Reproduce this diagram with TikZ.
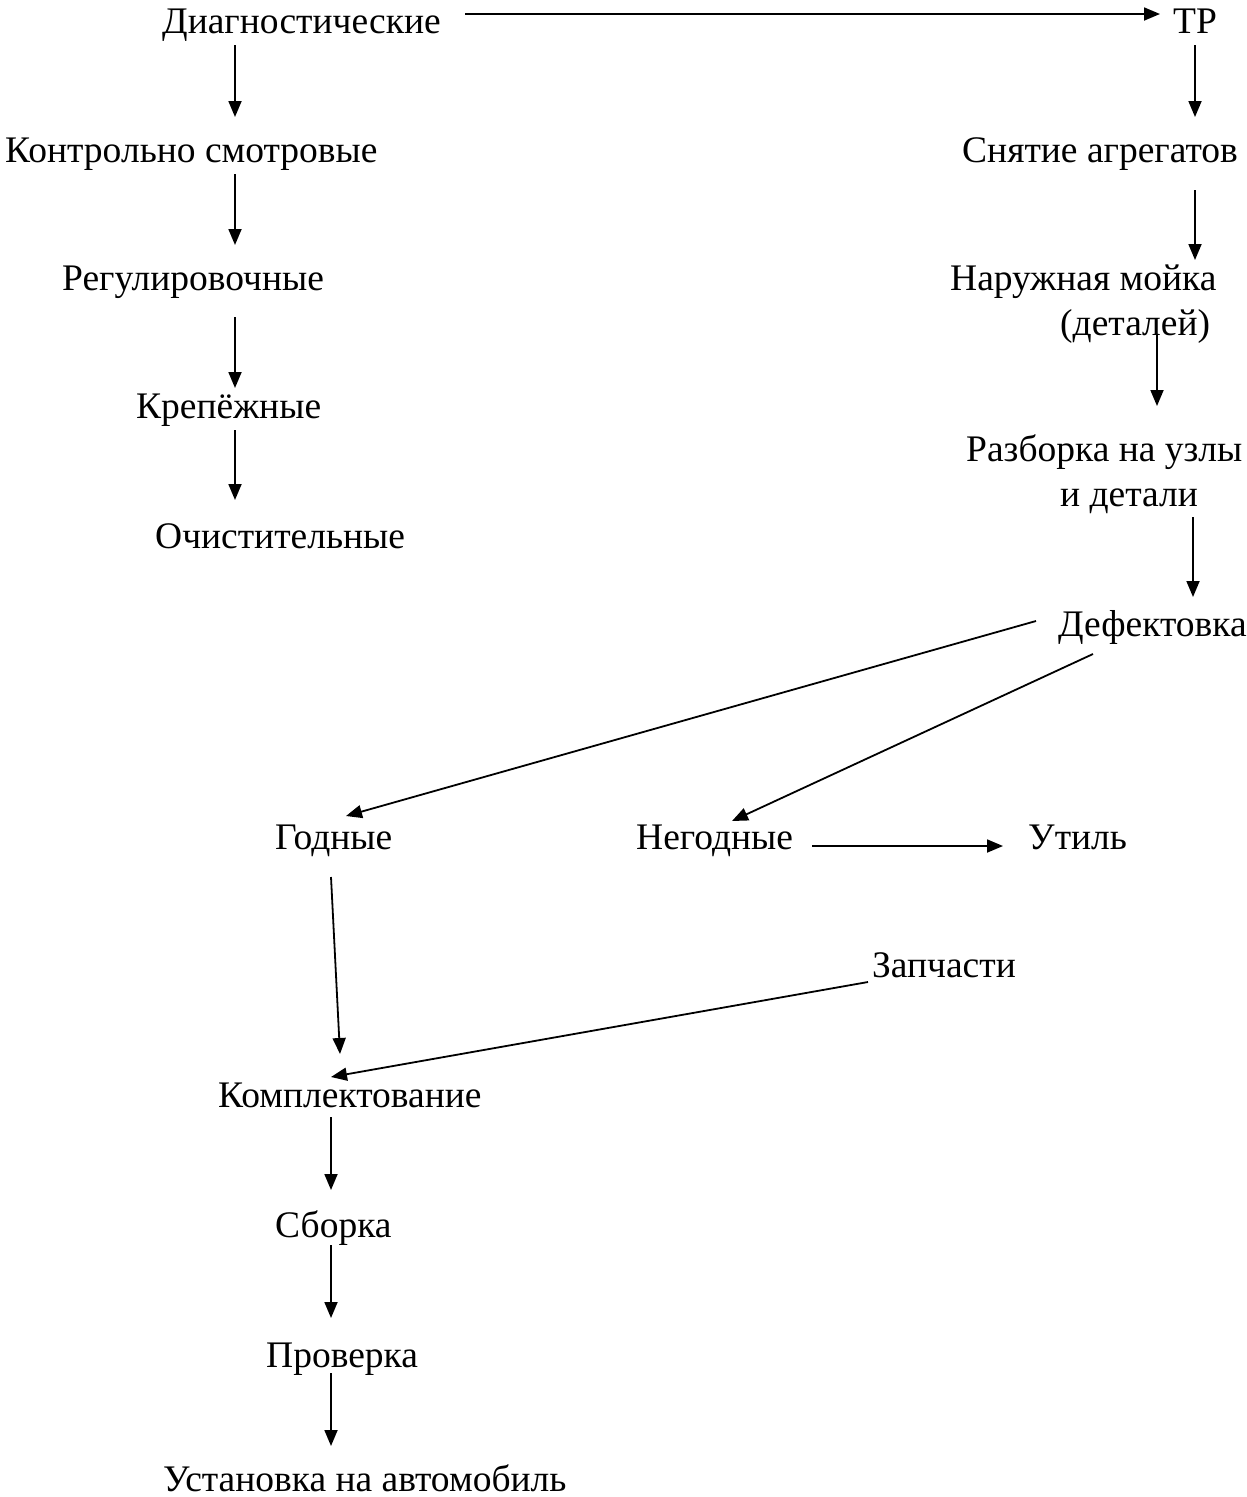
\documentclass[tikz,border=0pt]{standalone}
\usepackage{fontspec}
\setmainfont{Liberation Serif}
\usetikzlibrary{arrows.meta}
\begin{document}
\begin{tikzpicture}[x=1pt,y=-1pt,
  lbl/.style={anchor=base west,inner sep=0pt,font=\fontsize{37.5}{45}\selectfont},
  arr/.style={line width=1.8pt,-{Triangle[length=16pt,width=13pt]}}]
\useasboundingbox (0,0) rectangle (1247,1497);
% left column
\node[lbl] (diag) at (162,33) {Диагностические};
\node[lbl] (kontr) at (5,162) {Контрольно смотровые};
\node[lbl] (regul) at (62,290) {Регулировочные};
\node[lbl] (krep) at (136,418) {Крепёжные};
\node[lbl] (ochist) at (155,548) {Очистительные};
% right column
\node[lbl] (tr) at (1173,33) {ТР};
\node[lbl] (snyat) at (962,162) {Снятие агрегатов};
\node[lbl] (moika) at (950,290) {Наружная мойка};
\node[lbl] (moika2) at (1060,335) {(деталей)};
\node[lbl] (razb) at (966,461) {Разборка на узлы};
\node[lbl] (razb2) at (1060,506) {и детали};
\node[lbl] (defekt) at (1058,636) {Дефектовка};
% middle
\node[lbl] (godn) at (275,849) {Годные};
\node[lbl] (negodn) at (636,849) {Негодные};
\node[lbl] (util) at (1028,849) {Утиль};
\node[lbl] (zap) at (872,977) {Запчасти};
\node[lbl] (kompl) at (218,1107) {Комплектование};
\node[lbl] (sborka) at (275,1237) {Сборка};
\node[lbl] (prov) at (266,1367) {Проверка};
\node[lbl] (ustan) at (163,1491) {Установка на автомобиль};
% connector end points
\coordinate (c1s) at (465,14);  \coordinate (c1e) at (1160,14);
\coordinate (c2s) at (235,45);  \coordinate (c2e) at (235,117);
\coordinate (c3s) at (235,174); \coordinate (c3e) at (235,245);
\coordinate (c4s) at (235,317); \coordinate (c4e) at (235,388);
\coordinate (c5s) at (235,430); \coordinate (c5e) at (235,500);
\coordinate (c6s) at (1195,45); \coordinate (c6e) at (1195,117);
\coordinate (c7s) at (1195,190);\coordinate (c7e) at (1195,260);
\coordinate (c8s) at (1157,335);\coordinate (c8e) at (1157,406);
\coordinate (c9s) at (1193,517);\coordinate (c9e) at (1193,597);
\coordinate (c10s) at (1036,621);\coordinate (c10e) at (346,816);
\coordinate (c11s) at (1093,654);\coordinate (c11e) at (732,821);
\coordinate (c12s) at (812,846);\coordinate (c12e) at (1003,846);
\coordinate (c13s) at (331,877);\coordinate (c13e) at (340,1054);
\coordinate (c14s) at (868,982);\coordinate (c14e) at (331,1077);
\coordinate (c15s) at (331,1117);\coordinate (c15e) at (331,1190);
\coordinate (c16s) at (331,1245);\coordinate (c16e) at (331,1318);
\coordinate (c17s) at (331,1373);\coordinate (c17e) at (331,1446);
% connectors
\draw[arr] (c1s) -- (c1e);   % diag -> tr
\draw[arr] (c2s) -- (c2e);   % diag -> kontr
\draw[arr] (c3s) -- (c3e);   % kontr -> regul
\draw[arr] (c4s) -- (c4e);   % regul -> krep
\draw[arr] (c5s) -- (c5e);   % krep -> ochist
\draw[arr] (c6s) -- (c6e);   % tr -> snyat
\draw[arr] (c7s) -- (c7e);   % snyat -> moika
\draw[arr] (c8s) -- (c8e);   % moika -> razb
\draw[arr] (c9s) -- (c9e);   % razb -> defekt
\draw[arr] (c10s) -- (c10e); % defekt -> godn
\draw[arr] (c11s) -- (c11e); % defekt -> negodn
\draw[arr] (c12s) -- (c12e); % negodn -> util
\draw[arr] (c13s) -- (c13e); % godn -> kompl
\draw[arr] (c14s) -- (c14e); % zap -> kompl
\draw[arr] (c15s) -- (c15e); % kompl -> sborka
\draw[arr] (c16s) -- (c16e); % sborka -> prov
\draw[arr] (c17s) -- (c17e); % prov -> ustan
\end{tikzpicture}
\end{document}
